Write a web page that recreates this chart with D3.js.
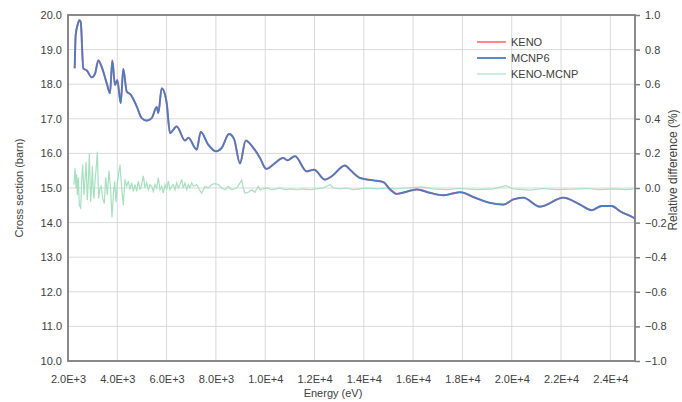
<!DOCTYPE html>
<html>
<head>
<meta charset="utf-8">
<script src="https://cdn.jsdelivr.net/npm/d3@7"></script>
<style>
  body { margin: 0; background: #fff; }
  svg text { font-family: "Liberation Sans", Arial, sans-serif; fill: #404040; }
</style>
</head>
<body>
<svg id="chart"></svg>
<script>
// cross section curve (MCNP6 / KENO overlap), energy in eV, xs in barn
const energy = [2272, 2312, 2406, 2458, 2515, 2621, 2759, 2961, 3095, 3229, 3367, 3570, 3704, 3797, 3907, 4000,
  4138, 4243, 4381, 4543, 4787, 4990, 5192, 5395, 5598, 5663, 5801, 5935, 6004, 6137, 6409, 6746, 6880, 7221,
  7383, 7691, 8003, 8235, 8531, 8734, 8977, 9208, 9517, 9788, 9991, 10060, 10328, 10733, 10896, 11208, 11683,
  11979, 12425, 12697, 13236, 13439, 13845, 14384, 14790, 15062, 15333, 15670, 16144, 16684, 17224, 17901,
  18510, 19118, 19657, 20063, 20469, 21146, 22091, 22769, 23243, 23649, 24055, 24391, 24866, 25000];
const mcnp6 = [18.46, 19.42, 19.75, 19.85, 19.8, 18.46, 18.4, 18.2, 18.3, 18.68, 18.5, 18.03, 17.74, 18.68, 17.98, 18.12,
  17.45, 18.44, 17.79, 17.7, 17.36, 17.02, 16.95, 17.02, 17.34, 17.17, 17.88, 17.7, 17.45, 16.59, 16.78, 16.37, 16.45, 16.11,
  16.62, 16.25, 16.06, 16.16, 16.56, 16.42, 15.71, 16.37, 16.16, 15.87, 15.58, 15.55, 15.68, 15.87, 15.8, 15.92, 15.48,
  15.53, 15.24, 15.34, 15.65, 15.53, 15.29, 15.22, 15.17, 14.96, 14.83, 14.88, 14.96, 14.86, 14.79, 14.88,
  14.72, 14.57, 14.52, 14.67, 14.72, 14.46, 14.72, 14.52, 14.36, 14.48, 14.48, 14.33, 14.17, 14.12];
const keno = [18.46, 19.42, 19.76, 19.85, 19.8, 18.45, 18.4, 18.2, 18.3, 18.69, 18.5, 18.03, 17.74, 18.69, 17.97, 18.12,
  17.46, 18.44, 17.79, 17.7, 17.36, 17.02, 16.95, 17.02, 17.35, 17.17, 17.88, 17.7, 17.45, 16.59, 16.78, 16.37, 16.45, 16.11,
  16.62, 16.25, 16.06, 16.16, 16.56, 16.42, 15.71, 16.37, 16.16, 15.87, 15.58, 15.55, 15.68, 15.87, 15.8, 15.92, 15.48,
  15.53, 15.24, 15.34, 15.65, 15.53, 15.29, 15.22, 15.17, 14.96, 14.83, 14.88, 14.96, 14.86, 14.79, 14.88,
  14.72, 14.57, 14.52, 14.67, 14.72, 14.46, 14.72, 14.52, 14.36, 14.48, 14.48, 14.33, 14.17, 14.12];

// relative difference KENO-MCNP (%)
const diffEnergy = [2243, 2284, 2324, 2351, 2378, 2419, 2459, 2513, 2554, 2594, 2649, 2690, 2730, 2784, 2825, 2865,
  2919, 2960, 2987, 3027, 3055, 3095, 3136, 3190, 3244, 3298, 3352, 3406, 3474, 3528, 3596, 3663, 3731, 3785, 3839,
  3893, 3947, 4001, 4041, 4109, 4177, 4244, 4312, 4380, 4447, 4515, 4583, 4650, 4718, 4786, 4853, 4921, 4988, 5055,
  5123, 5192, 5258, 5326, 5395, 5461, 5529, 5598, 5663, 5732, 5800, 5866, 5934, 6003, 6068, 6137, 6206, 6271, 6340,
  6409, 6474, 6543, 6612, 6677, 6746, 6815, 6880, 6949, 7018, 7083, 7221, 7286, 7423, 7557, 7691, 7829, 7963, 8097,
  8235, 8369, 8502, 8640, 8843, 8977, 9046, 9111, 9180, 9314, 9452, 9585, 9719, 9788, 9922, 10060, 10263, 10466,
  10600, 10802, 11005, 11277, 11544, 11816, 12088, 12356, 12494, 12627, 12761, 13033, 13305, 13573, 13845, 14116,
  14522, 15062, 15195, 15738, 16346, 16820, 17361, 17901, 18578, 19253, 19766, 20063, 20740, 21280, 21822, 22497,
  23040, 23580, 24119, 24663, 24933];
const diffValues = [0.02, 0.115, 0.0, 0.08, -0.04, 0.06, -0.1, -0.115, 0.03, 0.135, -0.04, 0.05, 0.15, -0.07, 0.04, 0.2,
  -0.08, 0.02, 0.125, -0.03, -0.06, 0.04, 0.1, 0.21, -0.06, 0.0, 0.01, -0.06, -0.09, 0.06, -0.04, 0.1, -0.01, -0.17, -0.04,
  0.04, -0.08, 0.03, 0.07, 0.135, 0.0, -0.1, 0.05, 0.01, 0.04, -0.01, 0.03, -0.02, 0.02, -0.02, 0.04, -0.01, 0.02, 0.07,
  0.0, 0.03, -0.01, 0.02, 0.01, -0.02, 0.02, 0.0, 0.06, -0.01, 0.01, -0.03, 0.02, -0.01, 0.04, -0.01, 0.01, 0.02, -0.01,
  0.03, 0.0, 0.02, 0.05, 0.0, 0.03, -0.01, 0.02, 0.0, 0.03, 0.01, 0.02, 0.0, -0.03, 0.01, 0.0, 0.02, 0.025, 0.02,
  0.0, -0.01, 0.01, -0.01, 0.0, 0.03, 0.045, 0.0, -0.03, -0.025, -0.01, -0.025, 0.01, -0.01, -0.005, 0.0, -0.01, -0.005,
  0.0, -0.01, -0.005, -0.01, -0.005, -0.01, -0.005, 0.0, 0.01, 0.02, 0.0, -0.005, 0.0, -0.01, -0.005, 0.0,
  -0.005, 0.0, -0.005, 0.0, 0.007, -0.005, -0.009, -0.003, -0.009, -0.005, 0.014, -0.005, -0.012, -0.003, -0.009, -0.007,
  -0.003, -0.009, -0.005, -0.009, -0.005];

const xTicks = [2000, 4000, 6000, 8000, 10000, 12000, 14000, 16000, 18000, 20000, 22000, 24000];
const yLeftTicks = [10, 11, 12, 13, 14, 15, 16, 17, 18, 19, 20];
const yRightTicks = [-1, -0.8, -0.6, -0.4, -0.2, 0, 0.2, 0.4, 0.6, 0.8, 1];
const legendNames = ['KENO', 'MCNP6', 'KENO-MCNP'];
const colors = ['#ff7b7b', '#4a7cc4', '#a6e0be'];

const width = 682, height = 402;
const margin = {top: 15, right: 47, bottom: 41, left: 68};

const svg = d3.select('#chart').attr('width', width).attr('height', height);

const x = d3.scaleLinear().domain([2000, 25000]).range([margin.left, width - margin.right]);
const yL = d3.scaleLinear().domain([10, 20]).range([height - margin.bottom, margin.top]);
const yR = d3.scaleLinear().domain([-1, 1]).range([height - margin.bottom, margin.top]);

const sciFmt = v => {
    const e = Math.floor(Math.log10(v));
    return (v / Math.pow(10, e)).toFixed(1) + 'E+' + e;
};

// grid
const grid = svg.append('g').attr('stroke', '#d9d9d9').attr('stroke-width', 1);
xTicks.forEach(t => {
    grid.append('line').attr('x1', x(t)).attr('x2', x(t))
        .attr('y1', yL(10)).attr('y2', yL(20));
});
yLeftTicks.forEach(t => {
    grid.append('line').attr('x1', x(2000)).attr('x2', x(25000))
        .attr('y1', yL(t)).attr('y2', yL(t));
});

// axes
const xAxis = svg.append('g')
    .attr('transform', `translate(0,${height - margin.bottom})`)
    .call(d3.axisBottom(x).tickValues(xTicks).tickFormat(sciFmt).tickSize(0).tickPadding(14));
const leftAxis = svg.append('g')
    .attr('transform', `translate(${margin.left},0)`)
    .call(d3.axisLeft(yL).tickValues(yLeftTicks).tickFormat(d3.format('.1f')).tickSize(0).tickPadding(6));
const rightAxis = svg.append('g')
    .attr('transform', `translate(${width - margin.right},0)`)
    .call(d3.axisRight(yR).tickValues(yRightTicks).tickFormat(d3.format('.1f')).tickSize(5).tickPadding(5));

[xAxis, leftAxis, rightAxis].forEach(a => {
    a.select('.domain').remove();
    a.selectAll('text').style('font-size', '11px').attr('fill', '#404040');
    a.selectAll('line').attr('stroke', '#7f7f7f').attr('stroke-width', 1.5);
});

// frame
svg.append('rect')
    .attr('x', x(2000)).attr('y', yL(20))
    .attr('width', x(25000) - x(2000)).attr('height', yL(10) - yL(20))
    .attr('fill', 'none').attr('stroke', '#7f7f7f').attr('stroke-width', 1.8);

// lines
const xsLine = d3.line().x((d, i) => x(energy[i])).y(d => yL(d)).curve(d3.curveMonotoneX);
const diffLine = d3.line().x((d, i) => x(diffEnergy[i])).y(d => yR(d));

svg.append('path').datum(diffValues)
    .attr('d', diffLine).attr('fill', 'none')
    .attr('stroke', colors[2]).attr('stroke-width', 1.2);
svg.append('path').datum(keno)
    .attr('d', xsLine).attr('fill', 'none')
    .attr('stroke', colors[0]).attr('stroke-width', 2);
svg.append('path').datum(mcnp6)
    .attr('d', xsLine).attr('fill', 'none')
    .attr('stroke', colors[1]).attr('stroke-width', 1.8);

// legend
const legend = svg.append('g');
legendNames.forEach((name, i) => {
    const ly = 42 + i * 16;
    legend.append('line').attr('x1', 477).attr('x2', 506).attr('y1', ly).attr('y2', ly)
        .attr('stroke', colors[i]).attr('stroke-width', i === 2 ? 1.2 : 1.8);
    legend.append('text').attr('x', 511).attr('y', ly + 4)
        .style('font-size', '11px').text(name);
});

// axis titles
svg.append('text')
    .attr('transform', `translate(23,${(yL(10) + yL(20)) / 2}) rotate(-90)`)
    .attr('text-anchor', 'middle').style('font-size', '11px')
    .text('Cross section (barn)');
svg.append('text')
    .attr('transform', `translate(677,170) rotate(-90)`)
    .attr('text-anchor', 'middle').style('font-size', '12px')
    .text('Relative difference (%)');
svg.append('text')
    .attr('x', 333).attr('y', 397)
    .attr('text-anchor', 'middle').style('font-size', '11px')
    .text('Energy (eV)');
</script>
</body>
</html>
